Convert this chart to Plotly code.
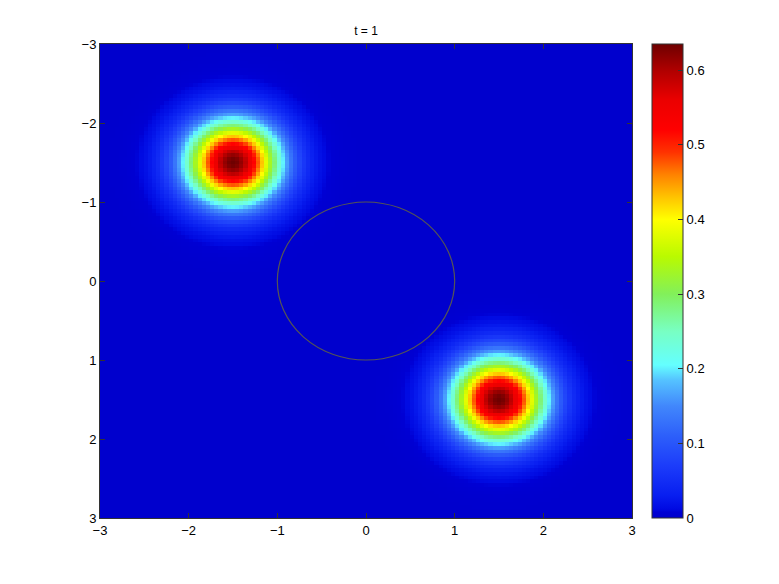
import numpy as np
import plotly.graph_objects as go

# ---- data ----
title_text = "t = 1"
grid_min, grid_max, grid_n = -3.0, 3.0, 129
blob_x = [-1.5, 1.5]
blob_y = [-1.5, 1.5]
blob_peak = [0.635, 0.635]
blob_sigma = [0.371, 0.371]
circle_radius = 1.0
x_ticks = [-3, -2, -1, 0, 1, 2, 3]
y_ticks = [-3, -2, -1, 0, 1, 2, 3]
cbar_ticks = [0, 0.1, 0.2, 0.3, 0.4, 0.5, 0.6]
z_max = 0.635

xs = np.linspace(grid_min, grid_max, grid_n)
ys = np.linspace(grid_min, grid_max, grid_n)
X, Y = np.meshgrid(xs, ys)
Z = np.zeros_like(X)
for cx, cy, a, s in zip(blob_x, blob_y, blob_peak, blob_sigma):
    Z += a * np.exp(-((X - cx) ** 2 + (Y - cy) ** 2) / (2 * s * s))

# colour stops (value, rgb)
stops = [
    (0.000, (0, 0, 205)),
    (0.008, (0, 0, 212)),
    (0.012, (0, 10, 226)),
    (0.030, (8, 30, 240)),
    (0.070, (28, 60, 250)),
    (0.110, (45, 95, 250)),
    (0.150, (65, 135, 252)),
    (0.185, (85, 195, 255)),
    (0.205, (100, 255, 255)),
    (0.250, (120, 255, 195)),
    (0.300, (130, 240, 90)),
    (0.350, (185, 250, 0)),
    (0.400, (255, 255, 0)),
    (0.430, (255, 195, 0)),
    (0.460, (255, 130, 0)),
    (0.490, (255, 50, 0)),
    (0.520, (255, 0, 0)),
    (0.560, (235, 0, 0)),
    (0.600, (175, 0, 0)),
    (0.635, (110, 0, 0)),
]
colorscale = [[v / z_max, "rgb(%d,%d,%d)" % c] for v, c in stops]

fig = go.Figure()
fig.add_trace(go.Heatmap(
    x=xs, y=ys, z=Z, zmin=0, zmax=z_max, zsmooth=False,
    colorscale=colorscale,
    colorbar=dict(
        x=1 + 20 / 532, xanchor="left", xpad=0, ypad=0,
        y=0.5, yanchor="middle", len=1, lenmode="fraction",
        thickness=31, thicknessmode="pixels",
        outlinewidth=1, outlinecolor="#333",
        tickvals=cbar_ticks, ticks="inside", ticklen=5, tickcolor="#333",
        tickfont=dict(family="Liberation Sans, Arial", size=13, color="black"),
    ),
))

fig.add_shape(type="circle", xref="x", yref="y",
              x0=-circle_radius, y0=-circle_radius, x1=circle_radius, y1=circle_radius,
              line=dict(color="#555555", width=1.2))

axis_common = dict(
    showgrid=False, zeroline=False, showline=True, mirror="ticks",
    linecolor="#333", linewidth=1, ticks="inside", ticklen=5, tickcolor="#333",
    tickfont=dict(family="Liberation Sans, Arial", size=13, color="black"),
    automargin=False,
)
fig.update_xaxes(range=[grid_min, grid_max], tickvals=x_ticks, **axis_common)
fig.update_yaxes(range=[grid_max, grid_min], tickvals=y_ticks, **axis_common)

# page body adds an 8px offset, so margins are shifted by 8px
fig.update_layout(
    width=779, height=584,
    margin=dict(l=92, r=155, t=36, b=74),
    paper_bgcolor="white", plot_bgcolor="white",
    title=dict(text=title_text, x=358 / 779, xanchor="center",
               y=1 - 23 / 584, yanchor="middle",
               font=dict(family="Liberation Sans, Arial", size=12, color="black")),
    showlegend=False,
)

fig.write_html("out.html")
